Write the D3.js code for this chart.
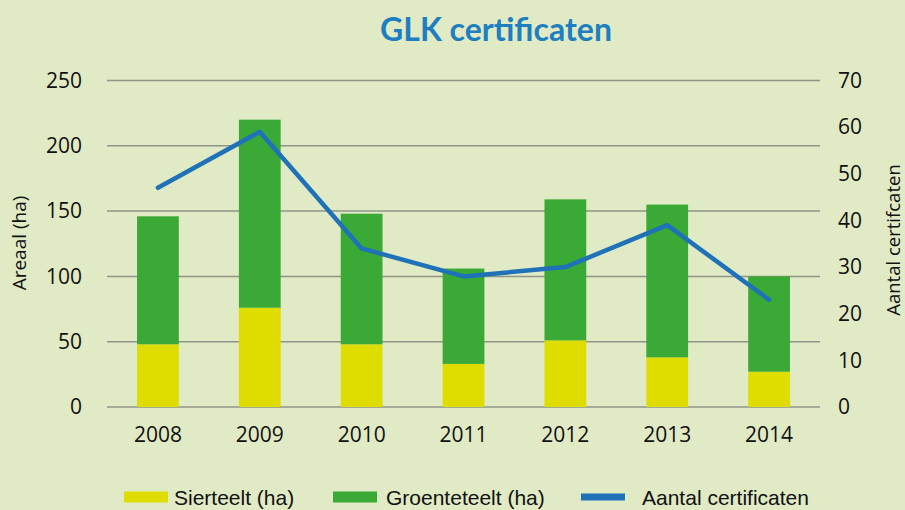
<!DOCTYPE html>
<html>
<head>
<meta charset="utf-8">
<script src="https://cdn.jsdelivr.net/npm/d3@7"></script>
<style>
  body { margin: 0; background: #e0eac4; }
  svg { display: block; }
  text { font-family: "Open Sans", sans-serif; fill: #111; }
</style>
</head>
<body>
<div id="container"></div>
<script>
// data
const years = ["2008", "2009", "2010", "2011", "2012", "2013", "2014"];
const sierteelt = [48, 76, 48, 33, 51, 38, 27];
const groenteteelt = [98, 144, 100, 73, 108, 117, 73];
const certificaten = [47, 59, 34, 28, 30, 39, 23];
const leftTicks = [0, 50, 100, 150, 200, 250];
const rightTicks = [0, 10, 20, 30, 40, 50, 60, 70];

const width = 905, height = 510;
const margin = { top: 80.5, bottom: 103, left: 107, right: 85 };

const colors = { sier: "#dfdc00", groen: "#3aa935", line: "#1f72b8", grid: "#8f9488" };

const svg = d3.select("#container").append("svg")
  .attr("width", width)
  .attr("height", height);

svg.append("rect").attr("width", width).attr("height", height).attr("fill", "#e0eac4");

const x = d3.scaleBand()
  .domain(years)
  .range([margin.left, width - margin.right])
  .paddingInner(0.59)
  .paddingOuter(0.295);

const yL = d3.scaleLinear().domain([0, 250]).range([height - margin.bottom, margin.top]);
const yR = d3.scaleLinear().domain([0, 70]).range([height - margin.bottom, margin.top]);

// gridlines
svg.selectAll(".grid")
  .data(leftTicks)
  .join("line")
  .attr("class", "grid")
  .attr("x1", margin.left)
  .attr("x2", width - margin.right)
  .attr("y1", d => yL(d))
  .attr("y2", d => yL(d))
  .attr("stroke", colors.grid)
  .attr("stroke-width", 1.5);

// stacked bars
const rows = years.map((y, i) => ({ year: y, sier: sierteelt[i], groen: groenteteelt[i] }));
const stack = d3.stack().keys(["sier", "groen"])(rows);

svg.selectAll(".series")
  .data(stack)
  .join("g")
  .attr("fill", d => colors[d.key])
  .selectAll("rect")
  .data(d => d)
  .join("rect")
  .attr("x", d => x(d.data.year))
  .attr("width", x.bandwidth())
  .attr("y", d => yL(d[1]))
  .attr("height", d => yL(d[0]) - yL(d[1]));

// line
const line = d3.line()
  .x((d, i) => x(years[i]) + x.bandwidth() / 2)
  .y(d => yR(d));

svg.append("path")
  .datum(certificaten)
  .attr("d", line)
  .attr("fill", "none")
  .attr("stroke", colors.line)
  .attr("stroke-width", 4.5)
  .attr("stroke-linejoin", "round")
  .attr("stroke-linecap", "round");

// axes
const axL = svg.append("g")
  .attr("transform", `translate(${margin.left},0)`)
  .call(d3.axisLeft(yL).tickValues(leftTicks).tickSize(0).tickPadding(25));
const axR = svg.append("g")
  .attr("transform", `translate(${width - margin.right},0)`)
  .call(d3.axisRight(yR).tickValues(rightTicks).tickSize(0).tickPadding(18));
const axB = svg.append("g")
  .attr("transform", `translate(0,${height - margin.bottom})`)
  .call(d3.axisBottom(x).tickSize(0).tickPadding(20));

[axL, axR, axB].forEach(g => {
  g.select(".domain").remove();
  g.selectAll("text").style("font-family", "Open Sans, sans-serif").style("font-size", "21px").attr("fill", "#111");
});

// axis titles
svg.append("text")
  .attr("transform", "translate(26,243) rotate(-90)")
  .attr("text-anchor", "middle")
  .style("font-size", "19px")
  .text("Areaal (ha)");

svg.append("text")
  .attr("transform", "translate(900,240) rotate(-90)")
  .attr("text-anchor", "middle")
  .style("font-size", "18.5px")
  .text("Aantal certifcaten");

// title
svg.append("text")
  .attr("x", 496)
  .attr("y", 41)
  .attr("text-anchor", "middle")
  .style("font-family", "Lato, sans-serif")
  .style("font-weight", "bold")
  .style("font-size", "32px")
  .style("fill", "#1e7fc0")
  .text("GLK certificaten");

// legend
const legend = [
  { label: "Sierteelt (ha)", color: colors.sier, x: 124, h: 11, tx: 174 },
  { label: "Groenteteelt (ha)", color: colors.groen, x: 333, h: 11, tx: 386 },
  { label: "Aantal certificaten", color: colors.line, x: 581, h: 7, tx: 642 }
];
const lg = svg.selectAll(".lg").data(legend).join("g").attr("class", "lg");
lg.append("rect")
  .attr("x", d => d.x)
  .attr("y", d => 497 - d.h / 2)
  .attr("width", 44)
  .attr("height", d => d.h)
  .attr("fill", d => d.color);
lg.append("text")
  .attr("x", d => d.tx)
  .attr("y", 505)
  .style("font-family", "Liberation Sans Narrow, sans-serif")
  .style("font-size", "21px")
  .text(d => d.label);
</script>
</body>
</html>
